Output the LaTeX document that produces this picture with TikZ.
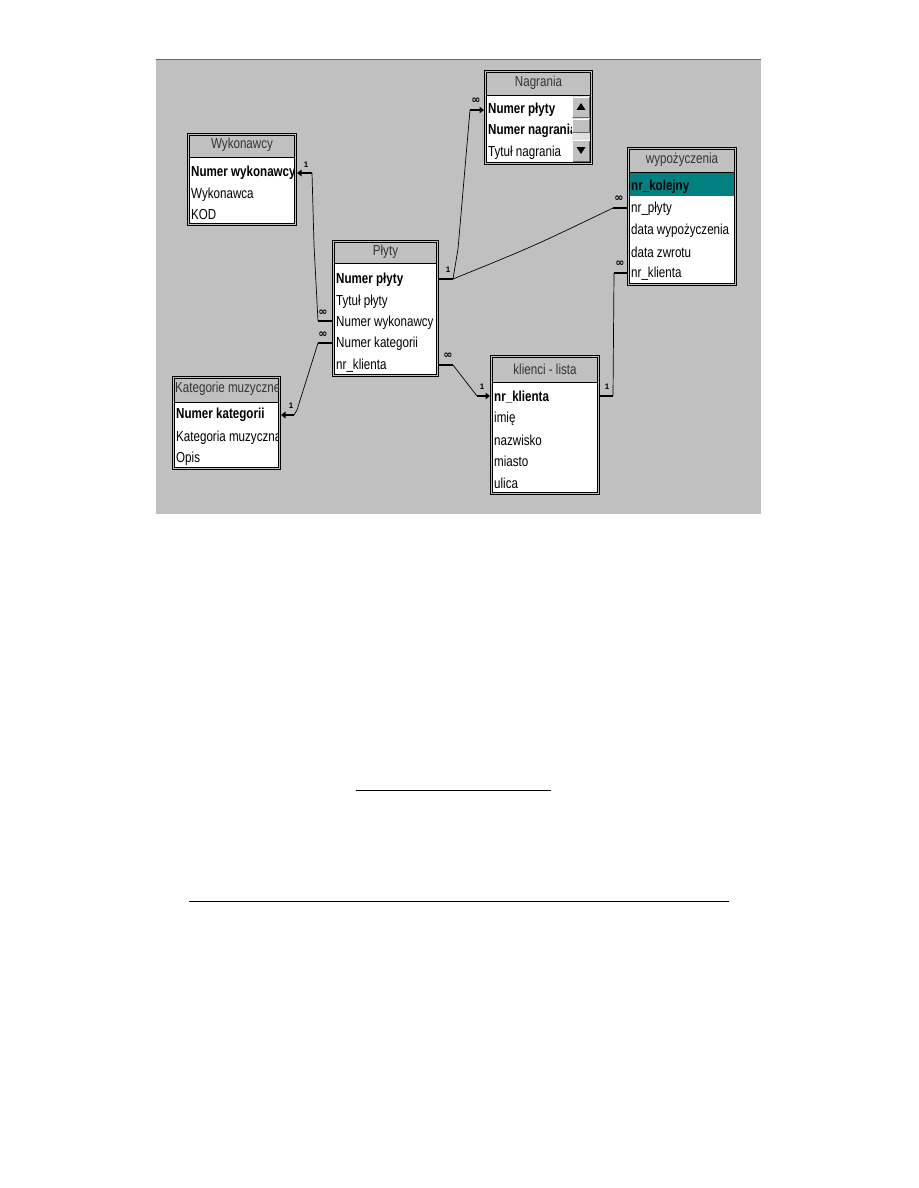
\documentclass[tikz,border=0pt]{standalone}
\usepackage{fontspec}
\setmainfont{Liberation Sans}
\newfontfamily\uifont{Liberation Sans}[FakeStretch=0.8]
\newfontfamily\symfont{DejaVu Sans}
\usetikzlibrary{calc,arrows.meta}
\definecolor{winbg}{HTML}{C0C0C0}
\definecolor{tealhl}{HTML}{008080}
\definecolor{topline}{HTML}{2E7B7B}
\definecolor{dither}{HTML}{E0E0E0}
\newcommand\DBframe[6]{%
  \node[tframe, minimum width={#4-#2-3}, minimum height={#5-#3-3}] (#1) at ({(#2+#4)/2},{(#3+#5)/2}) {};
  \fill[winbg] ({#2+3},{#3+3}) rectangle ({#4-3},{#6});
  \draw[line width=0.9pt] ({#2+3},{#6}) -- ({#4-3},{#6});
}
\begin{document}
\begin{tikzpicture}[x=1pt,y=-1pt,
  tframe/.style={draw=black, line width=0.8pt, double=winbg, double distance=1.4pt, fill=white, inner sep=0pt, outer sep=1.5pt},
  rowtxt/.style={anchor=west, inner sep=0pt, font=\uifont\fontsize{14.5}{16}\selectfont},
  keytxt/.style={rowtxt, font=\uifont\fontsize{14.5}{16}\selectfont\bfseries},
  ttltxt/.style={inner sep=0pt, font=\uifont\fontsize{14.5}{16}\selectfont, text=black!80},
  stub/.style={line width=2.2pt},
  arr/.style={line width=2.2pt, -{Triangle[length=4.5pt,width=6.5pt]}},
  conn/.style={line width=0.7pt},
  one/.style={inner sep=0pt, font=\fontsize{8}{8}\selectfont\bfseries},
  many/.style={inner sep=0pt, font=\symfont\fontsize{11}{11}\selectfont\bfseries}
]
\fill[white] (0,0) rectangle (918,1188);
\useasboundingbox (0,0) rectangle (918,1188);

% window background
\fill[winbg] (156,59) rectangle (761,514);
\draw[topline, line width=1.2pt] (156,59.5) -- (761,59.5);

% ---------- Wykonawcy ----------
\DBframe{wyk}{187}{133}{297}{226}{157}
\node[ttltxt] (wykt) at (242,145) {Wykonawcy};
\begin{scope}
\clip (190,157) rectangle (294,223);
\node[keytxt] (w1) at (191,173) {Numer wykonawcy};
\node[rowtxt] (w2) at (191,195) {Wykonawca};
\node[rowtxt] (w3) at (191,215) {KOD};
\end{scope}

% ---------- Nagrania ----------
\DBframe{nag}{484}{70}{593}{165}{95}
\node[ttltxt] (nagt) at (538.5,83) {Nagrania};
\begin{scope}
\clip (487,95) rectangle (572,162);
\node[keytxt] (n1) at (488,110) {Numer płyty};
\node[keytxt] (n2) at (488,131) {Numer nagrania};
\node[rowtxt] (n3) at (488,153) {Tytuł nagrania};
\end{scope}
% scrollbar
\fill[dither] (572,96) rectangle (590,162);
\fill[winbg] (572,97) rectangle (590,118);
\draw[white, line width=0.8pt] (572.5,117.5) -- (572.5,97.5) -- (589.5,97.5);
\draw[black!60, line width=0.8pt] (572.5,117.5) -- (589.5,117.5) -- (589.5,97.5);
\fill[black] (581,103) -- (576.5,110) -- (585.5,110) -- cycle;
\fill[winbg] (572,119) rectangle (590,133);
\draw[white, line width=0.8pt] (572.5,132.5) -- (572.5,119.5) -- (589.5,119.5);
\draw[black!60, line width=0.8pt] (572.5,132.5) -- (589.5,132.5) -- (589.5,119.5);
\fill[winbg] (572,140) rectangle (590,162);
\draw[white, line width=0.8pt] (572.5,161.5) -- (572.5,140.5) -- (589.5,140.5);
\draw[black!60, line width=0.8pt] (572.5,161.5) -- (589.5,161.5) -- (589.5,140.5);
\fill[black] (576.5,147) -- (585.5,147) -- (581,154) -- cycle;

% ---------- wypozyczenia ----------
\DBframe{wyp}{627}{147}{737}{286}{172}
\node[ttltxt] (wypt) at (682,160) {wypożyczenia};
\fill[tealhl] (630,172.5) rectangle (734,196);
\begin{scope}
\clip (630,172) rectangle (734,283);
\node[keytxt] (y1) at (631,187) {nr\_kolejny};
\node[rowtxt] (y2) at (631,209) {nr\_płyty};
\node[rowtxt] (y3) at (631,231) {data wypożyczenia};
\node[rowtxt] (y4) at (631,252) {data zwrotu};
\node[rowtxt] (y5) at (631,274) {nr\_klienta};
\end{scope}

% ---------- Plyty ----------
\DBframe{pl}{332}{240}{439}{377}{263}
\node[ttltxt] (plt) at (385.5,252) {Płyty};
\begin{scope}
\clip (335,263) rectangle (436,374);
\node[keytxt] (p1) at (336,280) {Numer płyty};
\node[rowtxt] (p2) at (336,302) {Tytuł płyty};
\node[rowtxt] (p3) at (336,323) {Numer wykonawcy};
\node[rowtxt] (p4) at (336,344) {Numer kategorii};
\node[rowtxt] (p5) at (336,366) {nr\_klienta};
\end{scope}

% ---------- Kategorie muzyczne ----------
\DBframe{kat}{172}{376}{281}{470}{402}
\begin{scope}
\clip (175,379) rectangle (278,467);
\node[ttltxt, anchor=west] (katt) at (175,389) {Kategorie muzyczne};
\node[keytxt] (k1) at (176,415) {Numer kategorii};
\node[rowtxt] (k2) at (176,438) {Kategoria muzyczna};
\node[rowtxt] (k3) at (176,459) {Opis};
\end{scope}

% ---------- klienci - lista ----------
\DBframe{kl}{490}{355}{600}{495}{382}
\node[ttltxt] (klt) at (545,369) {klienci - lista};
\begin{scope}
\clip (493,382) rectangle (597,492);
\node[keytxt] (r1) at (494,397) {nr\_klienta};
\node[rowtxt] (r2) at (494,419) {imię};
\node[rowtxt] (r3) at (494,440) {nazwisko};
\node[rowtxt] (r4) at (494,461) {miasto};
\node[rowtxt] (r5) at (494,483) {ulica};
\end{scope}

% ---------- relationships ----------
% Plyty.Numer wykonawcy -> Wykonawcy.Numer wykonawcy
\coordinate (qa1) at ($(pl.west|-p3)+(-14,-2)$);
\coordinate (qa2) at ($(wyk.east|-w1)+(15,0)$);
\draw[stub] ($(pl.west|-p3)+(0,-2)$) -- (qa1);
\draw[conn] (qa1) -- ($(qa2)+(2,72)$) -- (qa2);
\draw[arr] (qa2) -- (wyk.east|-w1);
\node[one] (l1) at ($(qa2)+(-6,-8)$) {1};
\node[many] (m1) at ($(qa1)+(5,-8)$) {∞};

% Plyty.Numer kategorii -> Kategorie.Numer kategorii
\coordinate (qb1) at ($(pl.west|-p4)+(-14,-1)$);
\coordinate (qb2) at ($(kat.east|-k1)+(13,0)$);
\draw[stub] ($(pl.west|-p4)+(0,-1)$) -- (qb1);
\draw[conn] (qb1) -- ($(qb2)+(3,-5)$) -- (qb2);
\draw[arr] (qb2) -- (kat.east|-k1);
\node[one] (l2) at ($(qb2)+(-3,-9)$) {1};
\node[many] (m2) at ($(qb1)+(5,-8)$) {∞};

% Plyty.Numer plyty -> Nagrania.Numer plyty
\coordinate (qc1) at ($(pl.east|-p1)+(14,-1)$);
\coordinate (qc2) at ($(nag.west|-n1)+(-14,0)$);
\draw[stub] ($(pl.east|-p1)+(0,-1)$) -- (qc1);
\draw[conn] (qc1) -- ($(qc1)+(5,-30)$) -- (qc2);
\draw[arr] (qc2) -- (nag.west|-n1);
\node[one] (l3) at ($(qc1)+(-5,-9)$) {1};
\node[many] (m3) at ($(qc2)+(6,-9)$) {∞};

% Plyty.Numer plyty -> wypozyczenia.nr_plyty
\coordinate (qd2) at ($(wyp.west|-y2)+(-14,-1)$);
\draw[conn] (qc1) .. controls ($(qc1)!0.5!(qd2)+(0,3)$) .. (qd2);
\draw[stub] (qd2) -- ($(wyp.west|-y2)+(0,-1)$);
\node[many] (m4) at ($(qd2)+(6,-9)$) {∞};

% Plyty.nr_klienta -> klienci.nr_klienta
\coordinate (qe1) at ($(pl.east|-p5)+(14,-1)$);
\coordinate (qe2) at ($(kl.west|-r1)+(-13,-1)$);
\draw[stub] ($(pl.east|-p5)+(0,-1)$) -- (qe1);
\draw[conn] (qe1) -- (qe2);
\draw[arr] (qe2) -- ($(kl.west|-r1)+(0,-1)$);
\node[many] (m5) at ($(qe1)+(-5,-9)$) {∞};
\node[one] (l5) at ($(qe2)+(5,-9)$) {1};

% klienci.nr_klienta -> wypozyczenia.nr_klienta
\coordinate (qf1) at ($(kl.east|-r1)+(13,-1)$);
\coordinate (qf2) at ($(wyp.west|-y5)+(-13,-1)$);
\draw[stub] ($(kl.east|-r1)+(0,-1)$) -- (qf1);
\draw[conn] (qf1) -- (qf2);
\draw[stub] (qf2) -- ($(wyp.west|-y5)+(0,-1)$);
\node[one] (l6) at ($(qf1)+(-6,-9)$) {1};
\node[many] (m6) at ($(qf2)+(6,-9)$) {∞};

% ---------- rules below ----------
\draw[line width=1pt] (356,790) -- (551,790);
\draw[line width=1pt] (189,901) -- (729,901);
\end{tikzpicture}
\end{document}
